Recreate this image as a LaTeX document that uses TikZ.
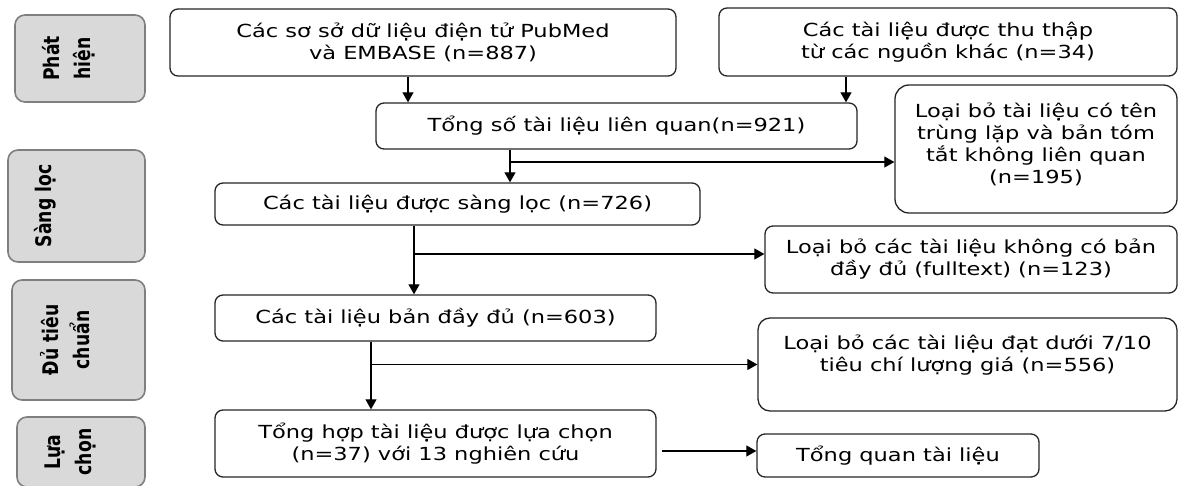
\documentclass[tikz,border=0pt]{standalone}
\usepackage{fontspec}
\usepackage{xcolor}
\usepackage{tikz}
\usetikzlibrary{arrows.meta}
\setmainfont{DejaVu Sans}[FakeStretch=1.25]
\newfontfamily\sidefont{DejaVu Sans}
\definecolor{sidegray}{HTML}{D9D9D9}
\definecolor{sideline}{HTML}{7F7F7F}
\newcommand{\sidetext}[2][0pt]{\scalebox{1}[1.25]{\begin{tabular}{@{}c@{}}#2\\[#1]\end{tabular}}}

\begin{document}
\begin{tikzpicture}[x=0.5pt, y=-0.5pt, font=\fontsize{9}{11}\selectfont,
		box/.style={draw=black!85, line width=0.65pt, rounded corners=4pt, fill=white, align=center, inner sep=2pt},
		side/.style={draw=sideline, line width=0.8pt, rounded corners=5pt, fill=sidegray, rotate=90, font=\sidefont\bfseries\fontsize{8.6}{12.5}\selectfont},
		arr/.style={line width=0.55pt, -{Triangle[length=5pt, width=5.5pt]}}]
		\useasboundingbox (0,0) rectangle (1178,486);
		% phases
		\node[side, minimum width=43.5pt, minimum height=65pt] (phat) at (80,58.5) {\sidetext[9.2pt]{Phát\\hiện}};
		\node[side, minimum width=56pt, minimum height=68.5pt] (sang) at (76.5,206) {\sidetext[25pt]{Sàng lọc}};
		\node[side, minimum width=60pt, minimum height=66.5pt] (du) at (78.5,340) {\sidetext[8.4pt]{Đủ tiêu\\chuẩn}};
		\node[side, minimum width=35pt, minimum height=64pt] (lua) at (81,452) {\sidetext[8.8pt]{Lựa\\chọn}};
		% main flow
		\node[box, minimum width=253pt, minimum height=33.5pt] (pub) at (423,42.5) {Các sơ sở dữ liệu điện tử PubMed\\và EMBASE (n=887)};
		\node[box, minimum width=229pt, minimum height=34pt] (khac) at (948,42) {Các tài liệu được thu thập\\từ các nguồn khác (n=34)};
		\node[box, minimum width=240.5pt, minimum height=23pt] (tong) at (616.5,126) {Tổng số tài liệu liên quan(n=921)};
		\node[box, minimum width=242.5pt, minimum height=21pt] (loc) at (457.5,204) {Các tài liệu được sàng lọc (n=726)};
		\node[box, minimum width=220.5pt, minimum height=23pt] (full) at (435.5,318) {Các tài liệu bản đầy đủ (n=603)};
		\node[box, minimum width=220.5pt, minimum height=33.5pt] (chon) at (435.5,443.5) {Tổng hợp tài liệu được lựa chọn\\(n=37) với 13 nghiên cứu};
		% excluded
		\node[box, minimum width=141pt, minimum height=64pt, rounded corners=7pt] (bo1) at (1036,149) {Loại bỏ tài liệu có tên\\trùng lặp và bản tóm\\tắt không liên quan\\(n=195)\\[-5.5pt]\mbox{}};
		\node[box, minimum width=206pt, minimum height=33.5pt] (bo2) at (971,259.5) {Loại bỏ các tài liệu không có bản\\đầy đủ (fulltext) (n=123)};
		\node[box, minimum width=209.5pt, minimum height=46.5pt, rounded corners=6pt] (bo3) at (967.5,364.5) {Loại bỏ các tài liệu đạt dưới 7/10\\tiêu chí lượng giá (n=556)\\\mbox{}};
		\node[box, minimum width=141pt, minimum height=21.5pt] (tq) at (898,455.5) {Tổng quan tài liệu};
		% arrows
		\draw[arr] ([xshift=-7.5pt]pub.south) coordinate (a1) -- (a1 |- tong.north);
		\draw[arr] ([xshift=-51pt]khac.south) coordinate (a2) -- (a2 |- tong.north);
		\draw[arr] ([xshift=-53.25pt]tong.south) coordinate (a3) -- (a3 |- loc.north);
		\coordinate (b1) at ([yshift=-6.5pt]bo1.west);
		\draw[arr] (a3 |- b1) -- (b1);
		\draw[arr] ([xshift=-21.75pt]loc.south) coordinate (a4) -- (a4 |- full.north);
		\coordinate (b2) at ([yshift=2.75pt]bo2.west);
		\draw[arr] (a4 |- b2) -- (b2);
		\draw[arr] ([xshift=-32.25pt]full.south) coordinate (a5) -- (a5 |- chon.north);
		\draw[arr] (a5 |- bo3.west) -- (bo3.west);
		\coordinate (b4) at ([yshift=2.25pt]tq.west);
		\draw[arr] ([xshift=2.5pt]chon.east |- b4) -- (b4);
\end{tikzpicture}
\end{document}
